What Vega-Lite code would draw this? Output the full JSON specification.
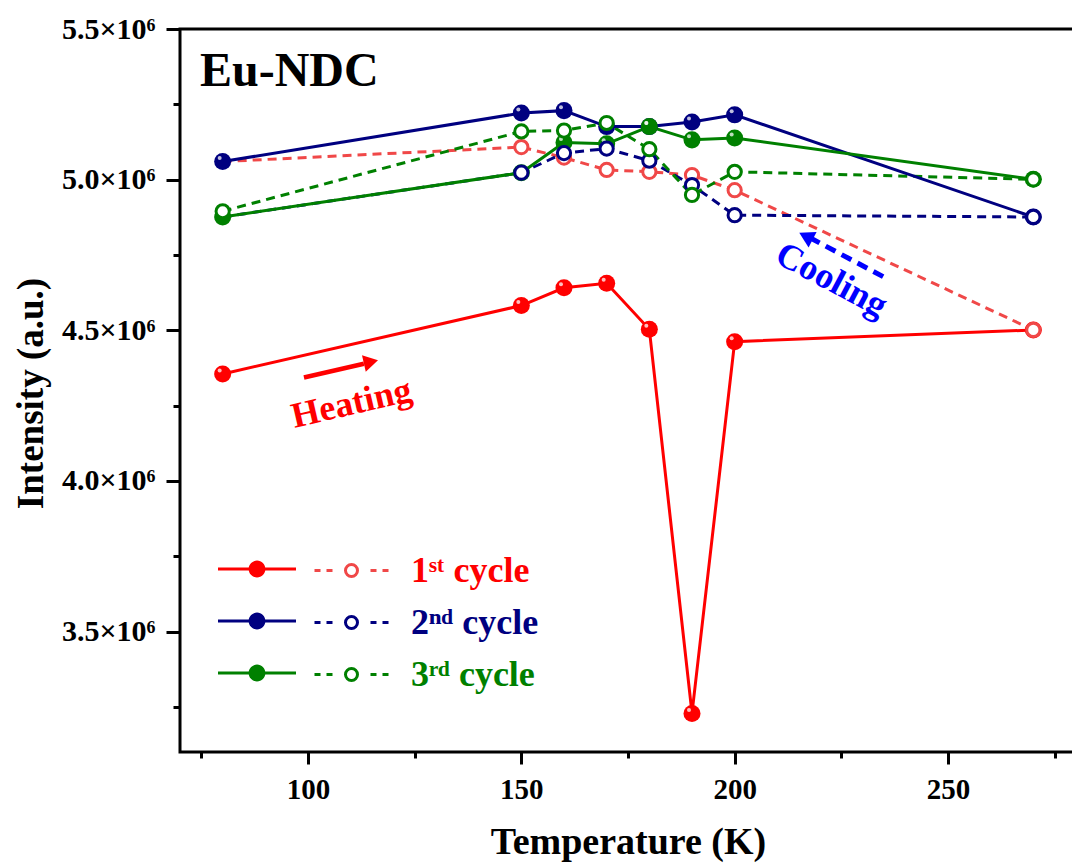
{
  "$schema": "https://vega.github.io/schema/vega-lite/v6.json",
  "width": 896,
  "height": 723,
  "autosize": {"type": "none"},
  "padding": {"left": 180, "top": 29, "right": -4, "bottom": 116},
  "background": "white",
  "title": {"text": "Eu-NDC", "anchor": "start", "frame": "group", "orient": "top", "offset": 0, "dx": 20, "dy": 120, "baseline": "alphabetic", "font": "Liberation Serif", "fontSize": 48, "fontWeight": "bold", "color": "black"},
  "config": {
    "font": "Liberation Serif",
    "view": {"stroke": "black", "strokeWidth": 3},
    "axis": {"labelFont": "Liberation Serif", "titleFont": "Liberation Serif", "labelColor": "black", "titleColor": "black", "tickColor": "black", "labelFontWeight": "bold", "titleFontWeight": "bold", "grid": false, "domain": false}
  },
  "datasets": {
    "intensity": [
      {"cycle": "1st", "run": "Heating", "T": 80, "I": 4355000},
      {"cycle": "1st", "run": "Heating", "T": 150, "I": 4582000},
      {"cycle": "1st", "run": "Heating", "T": 160, "I": 4641000},
      {"cycle": "1st", "run": "Heating", "T": 170, "I": 4656000},
      {"cycle": "1st", "run": "Heating", "T": 180, "I": 4503000},
      {"cycle": "1st", "run": "Heating", "T": 190, "I": 3228000},
      {"cycle": "1st", "run": "Heating", "T": 200, "I": 4462000},
      {"cycle": "1st", "run": "Heating", "T": 270, "I": 4501000},
      {"cycle": "1st", "run": "Cooling", "T": 270, "I": 4501000},
      {"cycle": "1st", "run": "Cooling", "T": 200, "I": 4965000},
      {"cycle": "1st", "run": "Cooling", "T": 190, "I": 5015000},
      {"cycle": "1st", "run": "Cooling", "T": 180, "I": 5026000},
      {"cycle": "1st", "run": "Cooling", "T": 170, "I": 5032000},
      {"cycle": "1st", "run": "Cooling", "T": 160, "I": 5073000},
      {"cycle": "1st", "run": "Cooling", "T": 150, "I": 5108000},
      {"cycle": "1st", "run": "Cooling", "T": 80, "I": 5060000},
      {"cycle": "2nd", "run": "Heating", "T": 80, "I": 5060000},
      {"cycle": "2nd", "run": "Heating", "T": 150, "I": 5221000},
      {"cycle": "2nd", "run": "Heating", "T": 160, "I": 5229000},
      {"cycle": "2nd", "run": "Heating", "T": 170, "I": 5176000},
      {"cycle": "2nd", "run": "Heating", "T": 180, "I": 5176000},
      {"cycle": "2nd", "run": "Heating", "T": 190, "I": 5191000},
      {"cycle": "2nd", "run": "Heating", "T": 200, "I": 5215000},
      {"cycle": "2nd", "run": "Heating", "T": 270, "I": 4876000},
      {"cycle": "2nd", "run": "Cooling", "T": 270, "I": 4876000},
      {"cycle": "2nd", "run": "Cooling", "T": 200, "I": 4882000},
      {"cycle": "2nd", "run": "Cooling", "T": 190, "I": 4982000},
      {"cycle": "2nd", "run": "Cooling", "T": 180, "I": 5063000},
      {"cycle": "2nd", "run": "Cooling", "T": 170, "I": 5103000},
      {"cycle": "2nd", "run": "Cooling", "T": 160, "I": 5088000},
      {"cycle": "2nd", "run": "Cooling", "T": 150, "I": 5023000},
      {"cycle": "2nd", "run": "Cooling", "T": 80, "I": 4876000},
      {"cycle": "3rd", "run": "Heating", "T": 80, "I": 4876000},
      {"cycle": "3rd", "run": "Heating", "T": 150, "I": 5023000},
      {"cycle": "3rd", "run": "Heating", "T": 160, "I": 5123000},
      {"cycle": "3rd", "run": "Heating", "T": 170, "I": 5119000},
      {"cycle": "3rd", "run": "Heating", "T": 180, "I": 5176000},
      {"cycle": "3rd", "run": "Heating", "T": 190, "I": 5132000},
      {"cycle": "3rd", "run": "Heating", "T": 200, "I": 5138000},
      {"cycle": "3rd", "run": "Heating", "T": 270, "I": 5001000},
      {"cycle": "3rd", "run": "Cooling", "T": 270, "I": 5001000},
      {"cycle": "3rd", "run": "Cooling", "T": 200, "I": 5026000},
      {"cycle": "3rd", "run": "Cooling", "T": 190, "I": 4949000},
      {"cycle": "3rd", "run": "Cooling", "T": 180, "I": 5101000},
      {"cycle": "3rd", "run": "Cooling", "T": 170, "I": 5188000},
      {"cycle": "3rd", "run": "Cooling", "T": 160, "I": 5163000},
      {"cycle": "3rd", "run": "Cooling", "T": 150, "I": 5160000},
      {"cycle": "3rd", "run": "Cooling", "T": 80, "I": 4895000}
    ],
    "notes": [
      {"note": "Heating", "T": 110.2, "I": 4257000},
      {"note": "Cooling", "T": 222.7, "I": 4667000}
    ],
    "shafts": [
      {"arrow": "Heating", "T": 99.05, "I": 4343000, "T2": 113.1, "I2": 4389000},
      {"arrow": "Cooling", "T": 234.8, "I": 4678000, "T2": 218.1, "I2": 4803500}
    ],
    "heads": [
      {"arrow": "Heating", "T": 114.75, "I": 4395000},
      {"arrow": "Cooling", "T": 216.7, "I": 4812000}
    ]
  },
  "data": {"name": "intensity"},
  "encoding": {
    "x": {
      "field": "T", "type": "quantitative",
      "scale": {"domain": [70, 280], "nice": false, "zero": false},
      "axis": {
        "values": [75, 100, 125, 150, 175, 200, 225, 250, 275],
        "labelExpr": "datum.value % 50 === 0 ? datum.label : ''",
        "tickSize": {"condition": {"test": "datum.value % 50 === 0", "value": 12}, "value": 6},
        "tickWidth": 3,
        "labelFontSize": 29,
        "labelPadding": 11,
        "title": "Temperature (K)",
        "titleFontSize": 38,
        "titleX": 448,
        "titleY": 101,
        "titleBaseline": "alphabetic",
        "titleAlign": "center"
      }
    },
    "y": {
      "field": "I", "type": "quantitative",
      "scale": {"domain": [3100000, 5500000], "nice": false, "zero": false},
      "axis": {
        "values": [3250000, 3500000, 3750000, 4000000, 4250000, 4500000, 4750000, 5000000, 5250000, 5500000],
        "labelExpr": "datum.value % 500000 === 0 ? format(datum.value / 1000000, '.1f') + '×10⁶' : ''",
        "tickSize": {"condition": {"test": "datum.value % 500000 === 0", "value": 14}, "value": 7},
        "tickWidth": 3,
        "labelFontSize": 30,
        "labelPadding": 11,
        "title": "Intensity (a.u.)",
        "titleFontSize": 37,
        "titleAngle": 270,
        "titleX": -138,
        "titleY": 364,
        "titleBaseline": "alphabetic",
        "titleAlign": "center"
      }
    }
  },
  "layer": [
    {
      "transform": [{"filter": "datum.run === 'Cooling' && datum.cycle === '1st'"}],
      "mark": {"type": "line", "strokeWidth": 3, "strokeDash": [9, 6], "color": "#f04848"}
    },
    {
      "transform": [{"filter": "datum.run === 'Cooling' && datum.cycle === '2nd'"}],
      "mark": {"type": "line", "strokeWidth": 3, "strokeDash": [9, 6], "color": "#000080"}
    },
    {
      "transform": [{"filter": "datum.run === 'Cooling' && datum.cycle === '3rd'"}],
      "mark": {"type": "line", "strokeWidth": 3, "strokeDash": [9, 6], "color": "#008000"}
    },
    {
      "transform": [{"filter": "datum.run === 'Heating'"}],
      "mark": {"type": "line", "strokeWidth": 3},
      "encoding": {
        "color": {"field": "cycle", "type": "nominal", "scale": {"range": ["#ff0000", "#000080", "#008000"]}, "legend": null}
      }
    },
    {
      "transform": [{"filter": "datum.run === 'Heating'"}],
      "mark": {"type": "point", "shape": "circle", "filled": true, "size": 290, "opacity": 1},
      "encoding": {
        "fill": {
          "field": "cycle", "type": "nominal",
          "scale": {"range": ["#ff0000", "#000080", "#008000"]},
          "legend": {
            "title": null, "orient": "none", "legendX": 57, "legendY": 520, "direction": "vertical",
            "symbolType": "M-1.95,-0.075H-0.4V0.075H-1.95Z M0.4,-0.075H1.95V0.075H0.4Z M0.42,0A0.42,0.42 0 1 1 -0.42,0A0.42,0.42 0 1 1 0.42,0Z",
            "symbolSize": 1600, "symbolStrokeWidth": 0, "symbolOpacity": 1,
            "labelExpr": "''", "rowPadding": 23, "padding": 0
          }
        }
      }
    },
    {
      "transform": [{"filter": "datum.run === 'Heating' && datum.T < 270"}],
      "mark": {"type": "point", "shape": "circle", "filled": true, "size": 16, "color": "white", "opacity": 0.75, "xOffset": -3, "yOffset": -3.5}
    },
    {
      "transform": [{"filter": "datum.run === 'Cooling' && !(datum.T === 80 && datum.cycle !== '3rd')"}],
      "mark": {"type": "point", "shape": "circle", "filled": true, "fill": "white", "size": 175, "strokeWidth": 3, "opacity": 1},
      "encoding": {
        "stroke": {
          "field": "cycle", "type": "nominal",
          "scale": {"range": ["#f04848", "#000080", "#008000"]},
          "legend": {
            "title": null, "orient": "none", "legendX": 150, "legendY": 520, "direction": "vertical",
            "symbolType": "M-1.85,0H-1.55M-1.25,0H-0.95M0.95,0H1.25M1.55,0H1.85M0.3,0A0.3,0.3 0 1 1 -0.3,0A0.3,0.3 0 1 1 0.3,0Z",
            "symbolSize": 1600, "symbolStrokeWidth": 3, "symbolOpacity": 1, "symbolFillColor": "white",
            "labelExpr": "datum.label === '1st' ? '1ˢᵗ cycle' : datum.label === '2nd' ? '2ⁿᵈ cycle' : '3ʳᵈ cycle'",
            "labelFont": "Liberation Serif", "labelFontSize": 36, "labelFontWeight": "bold", "labelOffset": 38, "labelLimit": 400,
            "rowPadding": 12, "padding": 0,
            "labelColor": {"expr": "datum.value === '1st' ? '#ff0000' : datum.value === '2nd' ? '#000080' : '#008000'"}
          }
        }
      }
    },
    {
      "data": {"name": "shafts"},
      "transform": [{"filter": "datum.arrow === 'Heating'"}],
      "mark": {"type": "rule", "color": "#ff0000", "strokeWidth": 4.5},
      "encoding": {"x2": {"field": "T2"}, "y2": {"field": "I2"}}
    },
    {
      "data": {"name": "shafts"},
      "transform": [{"filter": "datum.arrow === 'Cooling'"}],
      "mark": {"type": "rule", "color": "#0000ff", "strokeWidth": 5, "strokeDash": [11, 7]},
      "encoding": {"x2": {"field": "T2"}, "y2": {"field": "I2"}}
    },
    {
      "data": {"name": "heads"},
      "transform": [{"filter": "datum.arrow === 'Heating'"}],
      "mark": {"type": "point", "shape": "triangle-right", "filled": true, "color": "#ff0000", "size": 280, "angle": 347, "opacity": 1}
    },
    {
      "data": {"name": "heads"},
      "transform": [{"filter": "datum.arrow === 'Cooling'"}],
      "mark": {"type": "point", "shape": "triangle-right", "filled": true, "color": "#0000ff", "size": 300, "angle": 207.5, "opacity": 1}
    },
    {
      "data": {"name": "notes"},
      "transform": [{"filter": "datum.note === 'Heating'"}],
      "mark": {"type": "text", "font": "Liberation Serif", "fontSize": 36, "fontWeight": "bold", "color": "#ff0000", "angle": 347, "align": "center", "baseline": "middle"},
      "encoding": {"text": {"field": "note"}}
    },
    {
      "data": {"name": "notes"},
      "transform": [{"filter": "datum.note === 'Cooling'"}],
      "mark": {"type": "text", "font": "Liberation Serif", "fontSize": 36, "fontWeight": "bold", "color": "#0000ff", "angle": 28, "align": "center", "baseline": "middle"},
      "encoding": {"text": {"field": "note"}}
    }
  ]
}
